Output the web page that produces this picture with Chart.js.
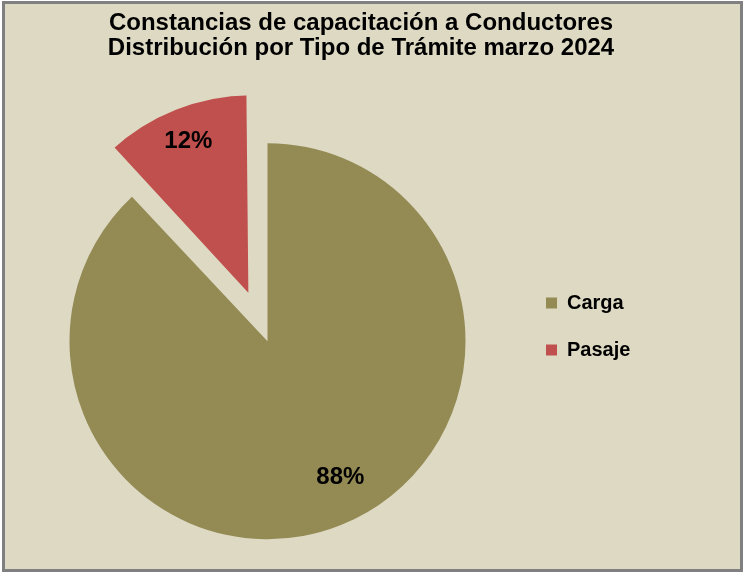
<!DOCTYPE html>
<html>
<head>
<meta charset="utf-8">
<script src="https://cdn.jsdelivr.net/npm/chart.js@4.4.1/dist/chart.umd.min.js"></script>
<style>
  html, body { margin: 0; padding: 0; background: #ffffff; overflow: hidden; }
  canvas { display: block; }
</style>
</head>
<body>
<canvas id="chart" width="744" height="574"></canvas>
<script>
// ---- data ----
const titleLines = ['Constancias de capacitación a Conductores', 'Distribución por Tipo de Trámite marzo 2024'];
const categories = ['Carga', 'Pasaje'];
const values = [88, 12];

// ---- styles ----
const FONT = "'Liberation Sans', Arial, Helvetica, sans-serif";
const BG = '#DDD9C3';
const sliceColors = ['#948A54', '#C0504D'];

const total = values.reduce((a, b) => a + b, 0);
const percentText = values.map(v => Math.round(v / total * 100) + '%');

const framePlugin = {
  id: 'frame',
  beforeDraw(chart) {
    const ctx = chart.ctx;
    ctx.save();
    ctx.fillStyle = '#ffffff';
    ctx.fillRect(0, 0, chart.width, chart.height);
    ctx.fillStyle = BG;
    ctx.fillRect(3.5, 2.5, chart.width - 6, chart.height - 6);
    ctx.strokeStyle = '#808080';
    ctx.lineWidth = 3;
    ctx.strokeRect(3.5, 2.5, chart.width - 6, chart.height - 6);
    ctx.restore();
  }
};

const legendWidthPlugin = {
  id: 'legendWidth',
  beforeLayout(chart, args, opts) {
    const lg = chart.legend;
    if (lg && !lg.__widened) {
      const fit = lg.fit;
      lg.fit = function () {
        fit.call(this);
        this.width = Math.max(this.width, opts.minWidth || 0);
      };
      lg.__widened = true;
    }
  }
};

const sliceLabelPlugin = {
  id: 'sliceLabels',
  afterDatasetsDraw(chart, args, opts) {
    const meta = chart.getDatasetMeta(0);
    const ctx = chart.ctx;
    ctx.save();
    ctx.font = opts.font;
    ctx.fillStyle = opts.color;
    ctx.textAlign = 'center';
    ctx.textBaseline = 'middle';
    meta.data.forEach((arc, i) => {
      const p = arc.getProps(['x', 'y', 'startAngle', 'endAngle', 'outerRadius'], true);
      const mid = (p.startAngle + p.endAngle) / 2;
      const shift = (opts.angleShift[i] || 0) * Math.PI / 180;
      const off = (arc.options.offset || 0) / 4;
      const r = opts.radius[i] * p.outerRadius;
      const x = p.x + Math.cos(mid) * off + Math.cos(mid + shift) * r;
      const y = p.y + Math.sin(mid) * off + Math.sin(mid + shift) * r;
      ctx.fillText(percentText[i], x, y);
    });
    ctx.restore();
  }
};

new Chart(document.getElementById('chart'), {
  type: 'pie',
  data: {
    labels: categories,
    datasets: [{
      data: values,
      backgroundColor: sliceColors,
      borderColor: BG,
      borderWidth: [0, 7.5],
      offset: [0, 166],
      hoverOffset: 0
    }]
  },
  options: {
    responsive: false,
    animation: false,
    events: [],
    radius: 198,
    layout: { padding: { left: 16, right: 38, top: 0, bottom: 9 } },
    plugins: {
      tooltip: { enabled: false },
      title: {
        display: true,
        text: titleLines,
        color: '#000000',
        font: { family: FONT, size: 24, weight: 'bold', lineHeight: 1.055 },
        padding: { top: 10.4, bottom: 56.3 }
      },
      legend: {
        position: 'right',
        align: 'center',
        fullSize: true,
        title: { display: true, text: '', padding: { top: 76, bottom: 0 }, font: { size: 10 } },
        labels: {
          boxWidth: 11,
          boxHeight: 11,
          padding: 27,
          color: '#000000',
          font: { family: FONT, size: 20, weight: 'bold' },
          generateLabels(chart) {
            const ds = chart.data.datasets[0];
            return chart.data.labels.map((t, i) => ({
              text: t,
              fillStyle: ds.backgroundColor[i],
              strokeStyle: ds.backgroundColor[i],
              lineWidth: 0,
              fontColor: '#000000',
              hidden: false,
              index: i
            }));
          }
        }
      },
      legendWidth: { minWidth: 187 },
      sliceLabels: {
        font: "bold 24px 'Liberation Sans', Arial, sans-serif",
        color: '#000000',
        radius: [0.781, 0.876],
        angleShift: [-6.5, 0]
      }
    }
  },
  plugins: [framePlugin, legendWidthPlugin, sliceLabelPlugin]
});
</script>
</body>
</html>
